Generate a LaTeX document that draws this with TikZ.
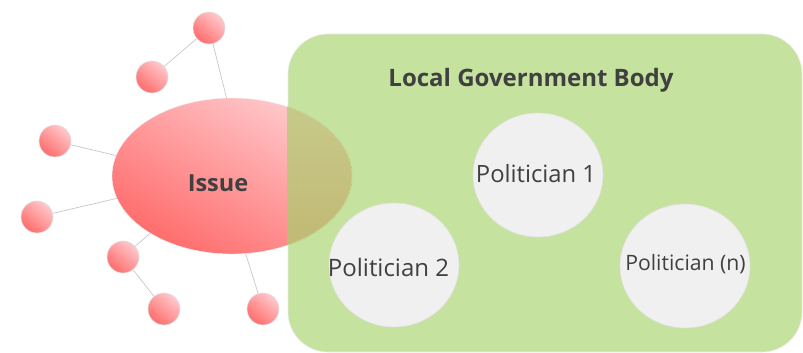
\documentclass[tikz,border=0pt]{standalone}
\usepackage{fontspec}
\setmainfont{Open Sans}
\usetikzlibrary{shapes.geometric}
\definecolor{bodygreen}{HTML}{C5E39E}
\definecolor{issuelight}{HTML}{FFC9CC}
\definecolor{issuedark}{HTML}{FF6C6C}
\definecolor{olivelight}{HTML}{C8CA8A}
\definecolor{olivedark}{HTML}{C1B874}
\definecolor{polgray}{HTML}{F0F0F0}
\definecolor{txtgray}{HTML}{404040}

\begin{document}
\begin{tikzpicture}[x=1pt,y=-1pt,
  dot/.style={circle,minimum size=32pt,inner sep=0pt,draw=black!12,line width=0.6pt,
    shading=axis,top color=issuelight,bottom color=issuedark,shading angle=-40},
  link/.style={draw=black!22,line width=0.7pt},
  pol/.style={ellipse,minimum width=130pt,minimum height=124pt,inner sep=0pt,
    fill=polgray,draw=black!12,line width=0.6pt},
  poltext/.style={text=txtgray,inner sep=0pt}]
\useasboundingbox (0,0) rectangle (803,353);

% issue and its satellites
\node[ellipse,minimum width=240pt,minimum height=156pt,inner sep=0pt,draw=black!6,
  shading=axis,top color=issuelight,bottom color=issuedark,shading angle=-30] (issue) at (232,176) {};
\node[dot] (c1) at (209,28) {};
\node[dot] (c2) at (152,77) {};
\node[dot] (c3) at (55,141) {};
\node[dot] (c4) at (37,217) {};
\node[dot] (c5) at (123,257) {};
\node[dot] (c6) at (164,309) {};
\node[dot] (c7) at (263,309) {};
\draw[link] (c1) -- (c2);
\draw[link] (c1) -- (issue.94);
\draw[link] (c3) -- (issue.170);
\draw[link] (c4) -- (issue.191);
\draw[link] (c5) -- (issue.215);
\draw[link] (c5) -- (c6);
\draw[link] (c7) -- (issue.280);

% local government body
\node[rectangle,rounded corners=40pt,minimum width=514pt,minimum height=318pt,
  fill=bodygreen,draw=black!8,line width=0.6pt] (body) at (545,193) {};
\begin{scope}
\clip[rounded corners=40pt] (body.south west) rectangle (body.north east);
\fill[top color=olivelight,bottom color=olivedark] (issue.center) ellipse [x radius=120pt,y radius=78pt];
\draw[olivelight!50!bodygreen,line width=0.8pt] (issue.center) ellipse [x radius=120pt,y radius=78pt];
\end{scope}
\node[text=txtgray,font=\bfseries\fontsize{24}{28}\selectfont] (title) at (531,80) {Local Government Body};
\node[text=txtgray,font=\bfseries\fontsize{23.5}{28}\selectfont] (issuetxt) at (218,183) {Issue};

\node[pol] (p1) at (538,175) {};
\node[pol] (p2) at (394,265) {};
\node[pol] (pn) at (685,266) {};
\node[poltext,font=\fontsize{23.8}{28}\selectfont] (p1txt) at (536,174) {Politician 1};
\node[poltext,font=\fontsize{24}{28}\selectfont] (p2txt) at (388.5,267) {Politician 2};
\node[poltext,font=\fontsize{21.2}{25}\selectfont] (pntxt) at (685.5,264) {Politician (n)};
\end{tikzpicture}
\end{document}
